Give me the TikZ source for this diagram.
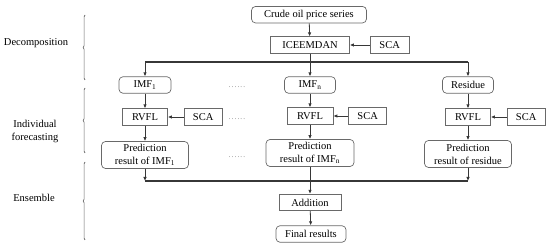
\documentclass[tikz,border=0pt]{standalone}
\usepackage{fontspec}
\setmainfont{Liberation Serif}
\usetikzlibrary{positioning,arrows.meta,decorations.pathreplacing}
\definecolor{boxgray}{RGB}{105,105,105}
\definecolor{wiregray}{RGB}{55,55,55}

\begin{document}
\begin{tikzpicture}[x=1pt, y=-1pt,
    blk/.style={draw=boxgray, line width=0.7pt, minimum height=16.5pt, inner sep=1pt,
        font=\fontsize{10.5}{13}\selectfont},
    rblk/.style={blk, rounded corners=4pt},
    pred/.style={rblk, align=center, minimum width=87pt, minimum height=27pt},
    flow/.style={-{Latex[length=4pt,width=3.5pt]}, draw=wiregray, line width=0.8pt},
    bus/.style={draw=wiregray, line width=1.4pt},
    curly/.style={decorate, decoration={brace,amplitude=1.8pt}, draw=boxgray, line width=0.7pt},
    lbl/.style={align=center, font=\fontsize{10.5}{13}\selectfont},
    dots/.style={anchor=base, text=boxgray, font=\fontsize{7}{7}\selectfont}
]
    \useasboundingbox (0,0) rectangle (550,248);

    % Decomposition
    \node[rblk, minimum width=115pt] (crude) at (309,14.7) {Crude oil price series};
    \node[blk, minimum width=79pt] (icee) at (310,45) {ICEEMDAN};
    \node[blk, minimum width=39pt, right=20pt of icee] (scatop) {SCA};

    \coordinate (topbus) at (0,62);
    \coordinate (botbus) at (0,181);

    % Components
    \node[rblk, minimum width=52pt] (imfa) at (145,85) {IMF\textsubscript{1}};
    \node[rblk, minimum width=51pt] (imfn) at (310,85) {IMF\textsubscript{n}};
    \node[rblk, minimum width=51pt] (resid) at (468,85) {Residue};

    % Individual forecasting
    \node[blk, minimum width=45pt] (rvfla) at (145,117) {RVFL};
    \node[blk, minimum width=38pt, right=16pt of rvfla] (scaa) {SCA};
    \node[blk, minimum width=46pt] (rvfln) at (310,116) {RVFL};
    \node[blk, minimum width=38pt, right=15pt of rvfln] (scan) {SCA};
    \node[blk, minimum width=45pt] (rvflr) at (468,117) {RVFL};
    \node[blk, minimum width=38pt, right=16pt of rvflr] (scar) {SCA};

    \node[pred] (preda) at (145,155) {Prediction\\result of IMF\textsubscript{1}};
    \node[pred, minimum width=88pt] (predn) at (310,153) {Prediction\\result of IMF\textsubscript{n}};
    \node[pred] (predr) at (468,154) {Prediction\\result of residue};

    % Ensemble
    \node[blk, minimum width=62pt] (add) at (310,202.5) {Addition};
    \node[rblk, minimum width=70pt] (final) at (311,234) {Final results};

    \node[dots] (dotsa) at (237,88) {.\,.\,.\,.\,.\,.};
    \node[dots] (dotsb) at (237,119.5) {.\,.\,.\,.\,.\,.};
    \node[dots] (dotsc) at (237,157.5) {.\,.\,.\,.\,.\,.};

    % Stage names
    \node[lbl] (decname) at (36,43) {Decomposition};
    \node[lbl] (indname) at (35,131.5) {Individual\\forecasting};
    \node[lbl] (ensname) at (34,198) {Ensemble};

    \draw[curly] (85,80) -- (85,15);
    \draw[curly] (85,153) -- (85,88);
    \draw[curly] (85,240) -- (85,162);

    % Connections
    \draw[flow] (crude) -- (icee);
    \draw[flow] (scatop) -- (icee);
    \draw[bus] (imfa.north |- topbus) -- (resid.north |- topbus);
    \draw[flow] (icee) -- (imfn);
    \draw[flow] (imfa.north |- topbus) -- (imfa);
    \draw[flow] (resid.north |- topbus) -- (resid);

    \draw[flow] (imfa) -- (rvfla);
    \draw[flow] (imfn) -- (rvfln);
    \draw[flow] (resid) -- (rvflr);
    \draw[flow] (scaa) -- (rvfla);
    \draw[flow] (scan) -- (rvfln);
    \draw[flow] (scar) -- (rvflr);
    \draw[flow] (rvfla) -- (preda);
    \draw[flow] (rvfln) -- (predn);
    \draw[flow] (rvflr) -- (predr);

    \draw[bus] (preda.south |- botbus) -- (predr.south |- botbus);
    \draw[flow] (preda) -- (preda.south |- botbus);
    \draw[flow] (predr) -- (predr.south |- botbus);
    \draw[flow] (predn) -- (add);
    \draw[flow] (add) -- (final);
\end{tikzpicture}
\end{document}
